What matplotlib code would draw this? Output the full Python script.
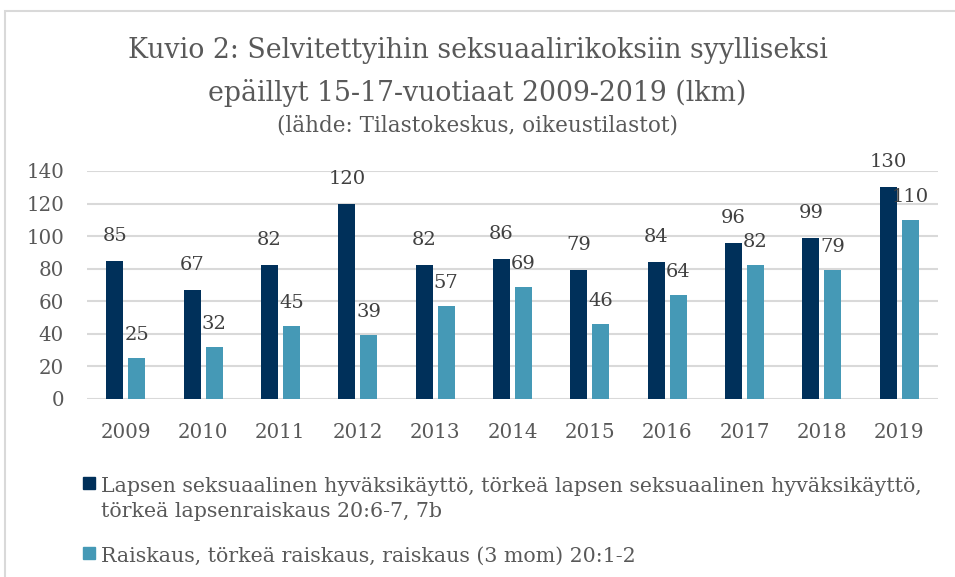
import matplotlib
matplotlib.use("Agg")
import matplotlib.pyplot as plt
from matplotlib.patches import Rectangle
import numpy as np

years = ["2009", "2010", "2011", "2012", "2013", "2014", "2015", "2016", "2017", "2018", "2019"]
child_abuse = [85, 67, 82, 120, 82, 86, 79, 84, 96, 99, 130]
rape = [25, 32, 45, 39, 57, 69, 46, 64, 82, 79, 110]
yticks = [0, 20, 40, 60, 80, 100, 120, 140]
legend_lines_1 = [
    "Lapsen seksuaalinen hyväksikäyttö, törkeä lapsen seksuaalinen hyväksikäyttö,",
    "törkeä lapsenraiskaus 20:6-7, 7b",
]
legend_lines_2 = ["Raiskaus, törkeä raiskaus, raiskaus (3 mom) 20:1-2"]
title_lines = [
    "Kuvio 2: Selvitettyihin seksuaalirikoksiin syylliseksi",
    "epäillyt 15-17-vuotiaat 2009-2019 (lkm)",
]
subtitle = "(lähde: Tilastokeskus, oikeustilastot)"

W, H = 955, 577
DARK = "#00305A"
LIGHT = "#4599B6"
TXT = "#595959"
LBL = "#404040"
FONT = "DejaVu Serif"

fig = plt.figure(figsize=(W / 100, H / 100), dpi=100)
fig.patch.set_facecolor("white")

def fx(px):
    return px / W

def fy(py):
    return 1 - py / H

# chart border
fig.add_artist(Rectangle((fx(5), fy(H + 10)), 1.2, fy(11) - fy(H + 10),
                         transform=fig.transFigure, fill=False,
                         edgecolor="#D9D9D9", linewidth=1.5))

ax = fig.add_axes([fx(87), fy(399), fx(938) - fx(87), fy(171) - fy(399)])
x = np.arange(len(years))
bw = 0.22
off = 0.142
ax.bar(x - off, child_abuse, bw, color=DARK, zorder=3)
ax.bar(x + off, rape, bw, color=LIGHT, zorder=3)

for xi, v in zip(x - off, child_abuse):
    ax.annotate(str(v), (xi, v), xytext=(0, 25), textcoords="offset pixels",
                ha="center", va="center", fontsize=14, color=LBL,
                family=FONT, annotation_clip=False)
for xi, v in zip(x + off, rape):
    ax.annotate(str(v), (xi, v), xytext=(0, 23), textcoords="offset pixels",
                ha="center", va="center", fontsize=14, color=LBL,
                family=FONT, annotation_clip=False)

ax.set_xlim(-0.5, len(years) - 0.5)
ax.set_ylim(0, 140)
ax.set_yticks(yticks)
ax.set_xticks(x)
ax.set_xticklabels(years)
ax.grid(axis="y", color="#D9D9D9", linewidth=1.5, zorder=0)
for s in ax.spines.values():
    s.set_visible(False)
ax.tick_params(length=0, labelsize=14.3, labelcolor=TXT)
ax.tick_params(axis="y", pad=16.5)
ax.tick_params(axis="x", pad=17.5)
for t in ax.get_xticklabels() + ax.get_yticklabels():
    t.set_family(FONT)

fig.text(0.5, fy(50), title_lines[0], ha="center", va="center",
         fontsize=19.3, color=TXT, family=FONT)
fig.text(0.5, fy(93), title_lines[1], ha="center", va="center",
         fontsize=19.3, color=TXT, family=FONT)
fig.text(0.5, fy(126), subtitle, ha="center", va="center",
         fontsize=15.5, color=TXT, family=FONT)

# legend
def legend_item(color, lines, sq_top, baselines):
    fig.add_artist(Rectangle((fx(83), fy(sq_top + 12)), fx(12), fy(sq_top) - fy(sq_top + 12),
                             transform=fig.transFigure, color=color))
    for line, b in zip(lines, baselines):
        fig.text(fx(101), fy(b), line, ha="left", va="baseline",
                 fontsize=14.8, color=TXT, family=FONT)

legend_item(DARK, legend_lines_1, 477, [492, 517])
legend_item(LIGHT, legend_lines_2, 547, [562])

fig.savefig("out.png", dpi=100, facecolor="white")
